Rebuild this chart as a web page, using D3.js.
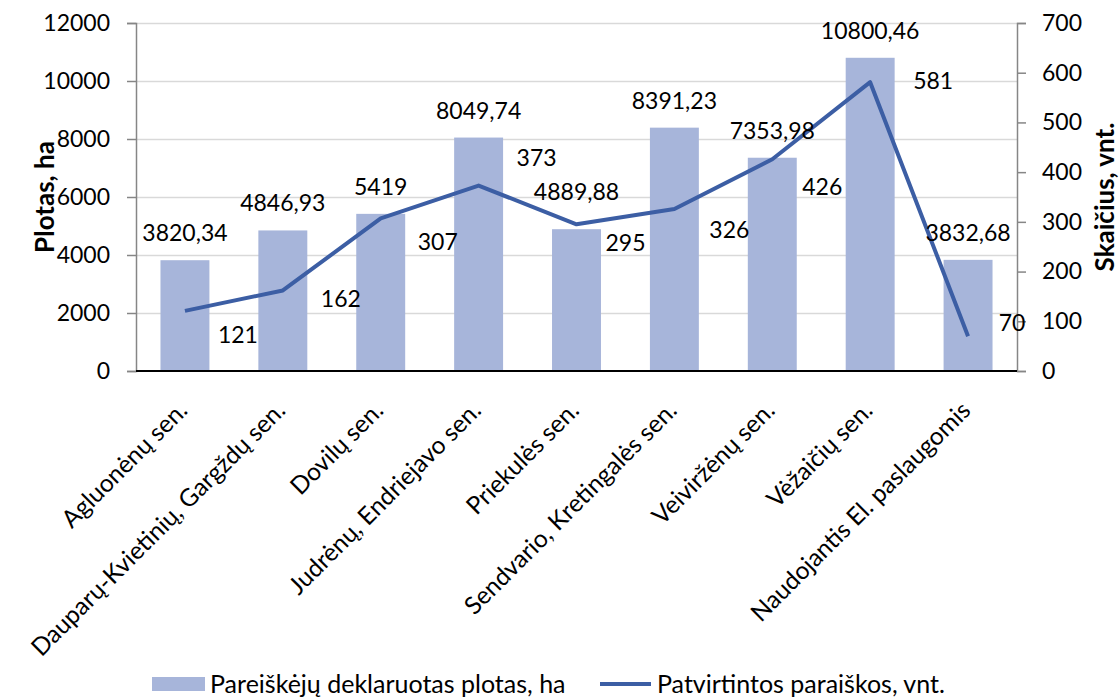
<html>
<head>
  <meta charset="utf-8">
  <title>Pareiškėjų deklaruotas plotas</title>
  <script src="https://cdn.jsdelivr.net/npm/d3@7"></script>
  <style>
    body { margin: 0; background: #fff; }
    text { font-family: Lato, "Open Sans", sans-serif; font-size: 23px; fill: #000; }
    .axisTitle { font-weight: bold; font-size: 26px; }
    .catLabel { font-size: 24.5px; }
    .legendText { font-size: 25px; }
    .grid line { stroke: #d9d9d9; stroke-width: 1.5px; }
  </style>
</head>
<body>
<script>
var categories = ['Agluonėnų sen.', 'Dauparų-Kvietinių, Gargždų sen.', 'Dovilų sen.',
                  'Judrėnų, Endriejavo sen.', 'Priekulės sen.', 'Sendvario, Kretingalės sen.',
                  'Veiviržėnų sen.', 'Vėžaičių sen.', 'Naudojantis El. paslaugomis'];
var area = [3820.34, 4846.93, 5419, 8049.74, 4889.88, 8391.23, 7353.98, 10800.46, 3832.68];
var areaLabels = ['3820,34', '4846,93', '5419', '8049,74', '4889,88', '8391,23', '7353,98', '10800,46', '3832,68'];
var approved = [121, 162, 307, 373, 295, 326, 426, 581, 70];
var leftTicks = [0, 2000, 4000, 6000, 8000, 10000, 12000];
var rightTicks = [0, 100, 200, 300, 400, 500, 600, 700];

// label nudges (layout only)
var barLabelLift = [27, 27, 27, 27, 37, 27, 27, 27, 27];
var lineLabelShift = [[53, 24], [58, 8], [57, 24], [58, -28], [49, 19], [55, 21], [50, 28], [63, -1], [44, -13]];

var width = 1120, height = 697;
var margin = { top: 23, right: 103, bottom: 326, left: 136 };

var svg = d3.select('body').append('svg')
            .attr('width', width)
            .attr('height', height);

var x = d3.scaleBand()
          .domain(categories)
          .range([margin.left, width - margin.right])
          .paddingInner(0.5)
          .paddingOuter(0.25);
var yLeft = d3.scaleLinear().domain([0, 12000]).range([height - margin.bottom, margin.top]);
var yRight = d3.scaleLinear().domain([0, 700]).range([height - margin.bottom, margin.top]);
var cx = function(d) { return x(d) + x.bandwidth() / 2; };

// gridlines
svg.append('g')
   .attr('class', 'grid')
   .attr('transform', 'translate(' + margin.left + ',0)')
   .call(d3.axisLeft(yLeft).tickValues(leftTicks.slice(1))
           .tickSize(-(width - margin.left - margin.right)).tickFormat(''))
   .call(function(g) { g.select('.domain').remove(); });

// bars
svg.selectAll('.bar')
   .data(categories)
   .enter().append('rect')
   .attr('class', 'bar')
   .attr('x', function(d) { return x(d); })
   .attr('width', x.bandwidth())
   .attr('y', function(d, i) { return yLeft(area[i]); })
   .attr('height', function(d, i) { return yLeft(0) - yLeft(area[i]); })
   .style('fill', '#a7b5da');

// left axis
var leftAxis = svg.append('g')
   .attr('transform', 'translate(' + margin.left + ',0)')
   .call(d3.axisLeft(yLeft).tickValues(leftTicks).tickSize(9).tickPadding(17).tickFormat(d3.format('d')));
leftAxis.select('.domain').attr('stroke', '#868686').attr('stroke-width', 1.5);
leftAxis.selectAll('.tick line').attr('stroke', '#868686').attr('stroke-width', 1.5);
leftAxis.selectAll('text').attr('font-family', null).attr('font-size', null);

// right axis
var rightAxis = svg.append('g')
   .attr('transform', 'translate(' + (width - margin.right) + ',0)')
   .call(d3.axisRight(yRight).tickValues(rightTicks).tickSize(9).tickPadding(16).tickFormat(d3.format('d')));
rightAxis.select('.domain').attr('stroke', '#868686').attr('stroke-width', 1.5);
rightAxis.selectAll('.tick line').attr('stroke', '#868686').attr('stroke-width', 1.5);
rightAxis.selectAll('text').attr('font-family', null).attr('font-size', null);

// bottom axis line
svg.append('line')
   .attr('x1', margin.left).attr('x2', width - margin.right)
   .attr('y1', yLeft(0)).attr('y2', yLeft(0))
   .attr('stroke', '#000').attr('stroke-width', 2);

// line series
var line = d3.line()
             .x(function(d, i) { return cx(categories[i]); })
             .y(function(d) { return yRight(d); });
svg.append('path')
   .datum(approved)
   .attr('d', line)
   .attr('fill', 'none')
   .attr('stroke', '#3c5ea4')
   .attr('stroke-width', 4)
   .attr('stroke-linejoin', 'round');

// bar labels
svg.selectAll('.barLabel')
   .data(categories)
   .enter().append('text')
   .attr('class', 'barLabel')
   .attr('x', function(d) { return cx(d); })
   .attr('y', function(d, i) { return yLeft(area[i]) - barLabelLift[i]; })
   .attr('dy', '0.35em')
   .style('text-anchor', 'middle')
   .text(function(d, i) { return areaLabels[i]; });

// line labels
svg.selectAll('.lineLabel')
   .data(categories)
   .enter().append('text')
   .attr('class', 'lineLabel')
   .attr('x', function(d, i) { return cx(d) + lineLabelShift[i][0]; })
   .attr('y', function(d, i) { return yRight(approved[i]) + lineLabelShift[i][1]; })
   .attr('dy', '0.35em')
   .style('text-anchor', 'middle')
   .text(function(d, i) { return approved[i]; });

// category labels
svg.selectAll('.catLabel')
   .data(categories)
   .enter().append('text')
   .attr('class', 'catLabel')
   .attr('transform', function(d) { return 'translate(' + (cx(d) + 4) + ',' + 412 + ')rotate(-45)'; })
   .style('text-anchor', 'end')
   .text(function(d) { return d; });

// axis titles
var midY = (yLeft(0) + yLeft(12000)) / 2;
svg.append('text')
   .attr('class', 'axisTitle')
   .attr('transform', 'translate(45,' + midY + ')rotate(-90)')
   .attr('dy', '0.35em')
   .style('text-anchor', 'middle')
   .text('Plotas, ha');
svg.append('text')
   .attr('class', 'axisTitle')
   .attr('transform', 'translate(1105,' + midY + ')rotate(-90)')
   .attr('dy', '0.35em')
   .style('text-anchor', 'middle')
   .text('Skaičius, vnt.');

// legend
var legend = svg.append('g').attr('transform', 'translate(0,684)');
legend.append('rect')
      .attr('x', 152).attr('y', -7).attr('width', 53).attr('height', 14)
      .style('fill', '#a7b5da');
legend.append('text')
      .attr('class', 'legendText')
      .attr('x', 210).attr('dy', '0.35em')
      .text('Pareiškėjų deklaruotas plotas, ha');
legend.append('line')
      .attr('x1', 600).attr('x2', 651).attr('y1', 0).attr('y2', 0)
      .attr('stroke', '#3c5ea4').attr('stroke-width', 4);
legend.append('text')
      .attr('class', 'legendText')
      .attr('x', 657).attr('dy', '0.35em')
      .text('Patvirtintos paraiškos, vnt.');
</script>
</body>
</html>
